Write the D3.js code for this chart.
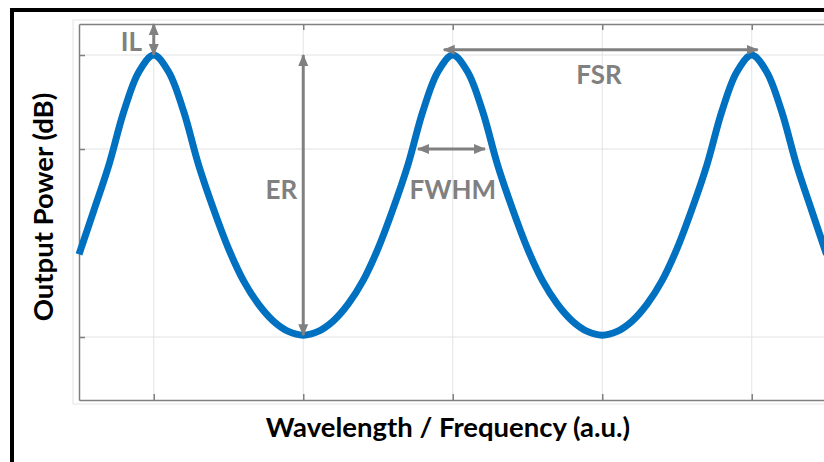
<!DOCTYPE html>
<html>
<head>
<meta charset="utf-8">
<script src="https://cdn.jsdelivr.net/npm/d3@7"></script>
<style>
  body { margin: 0; background: #fff; }
  text { font-family: Lato, "Open Sans", sans-serif; font-weight: bold; }
</style>
</head>
<body>
<svg id="chart" width="824" height="462"></svg>
<script>
'use strict';

// Wavelength / frequency positions (a.u.)
var waveX = [0.5, 0.6, 0.7, 0.8, 0.9, 1.0, 1.1, 1.2, 1.3, 1.4, 1.5,
             1.6, 1.7, 1.8, 1.9, 2.0, 2.1, 2.2, 2.3, 2.4, 2.5,
             2.6, 2.7, 2.8, 2.9, 3.0, 3.1, 3.2, 3.3, 3.4, 3.5,
             3.6, 3.7, 3.8, 3.9, 4.0, 4.1, 4.2, 4.3, 4.4, 4.5,
             4.6, 4.7, 4.8, 4.9, 5.0, 5.1, 5.2, 5.3, 5.4, 5.5];
// Output power (dB)
var powerDb = [-21.2, -16.5, -11.7, -6.0, -1.8, 0.0, -1.8, -6.0, -11.7, -16.4, -20.6,
               -24.0, -26.5, -28.3, -29.4, -29.8, -29.4, -28.3, -26.5, -24.0, -20.6,
               -16.4, -11.7, -6.0, -1.8, 0.0, -1.8, -6.0, -11.7, -16.4, -20.6,
               -24.0, -26.5, -28.3, -29.4, -29.8, -29.4, -28.3, -26.5, -24.0, -20.6,
               -16.4, -11.7, -6.0, -1.8, 0.0, -1.8, -6.0, -11.7, -16.5, -21.2];

var xTicks = [1, 2, 3, 4, 5];
var yTicks = [-30, -10, 0];

// annotation arrows in data units
var annotations = [
  { name: 'IL',   from: [1, 3.3],     to: [1, 0] },
  { name: 'ER',   from: [2, -29.8],   to: [2, 0] },
  { name: 'FWHM', from: [2.767, -10], to: [3.216, -10] },
  { name: 'FSR',  from: [2.94, 0.55], to: [5.04, 0.55] }
];
var labels = [
  { text: 'IL',   x: 0.85,  y: 1.4,   anchor: 'middle' },
  { text: 'ER',   x: 1.96,  y: -14.3, anchor: 'end' },
  { text: 'FWHM', x: 3.0,   y: -14.3, anchor: 'middle' },
  { text: 'FSR',  x: 3.978, y: -2.1,  anchor: 'middle' }
];

var svg = d3.select('#chart');
var grey = '#808080';

var x = d3.scaleLinear().domain([0.5, 5.5]).range([79, 826.5]);
var y = d3.scaleLinear().domain([-36.7, 3.3]).range([400, 24]);

// outer frame (only top and left visible)
svg.append('rect')
  .attr('x', 12).attr('y', 10).attr('width', 900).attr('height', 600)
  .attr('fill', 'none').attr('stroke', '#000').attr('stroke-width', 4);

// faint axes background border
svg.append('rect')
  .attr('x', 73).attr('y', 20).attr('width', 800).attr('height', 384)
  .attr('fill', 'none').attr('stroke', '#e4e4e4').attr('stroke-width', 1);

var plot = svg.append('g');

// grid
plot.selectAll('line.vgrid').data(xTicks).enter().append('line')
  .attr('class', 'vgrid')
  .attr('x1', function(d) { return x(d); }).attr('x2', function(d) { return x(d); })
  .attr('y1', y.range()[0]).attr('y2', y.range()[1])
  .attr('stroke', '#e3e3e3').attr('stroke-width', 1);
plot.selectAll('line.hgrid').data(yTicks).enter().append('line')
  .attr('class', 'hgrid')
  .attr('x1', x.range()[0]).attr('x2', x.range()[1])
  .attr('y1', function(d) { return y(d); }).attr('y2', function(d) { return y(d); })
  .attr('stroke', '#e3e3e3').attr('stroke-width', 1);

// axes (inward ticks, no labels)
function styleAxis(g) {
  g.selectAll('.domain').attr('stroke', grey).attr('stroke-width', 1.5);
  g.selectAll('.tick line').attr('stroke', grey).attr('stroke-width', 1.5);
  g.selectAll('.tick text').remove();
}
plot.append('g').attr('transform', 'translate(0,' + y.range()[0] + ')')
  .call(d3.axisBottom(x).tickValues(xTicks).tickSizeInner(-6).tickSizeOuter(0))
  .call(styleAxis);
plot.append('g').attr('transform', 'translate(0,' + y.range()[1] + ')')
  .call(d3.axisTop(x).tickValues(xTicks).tickSizeInner(-6).tickSizeOuter(0))
  .call(styleAxis);
plot.append('g').attr('transform', 'translate(' + x.range()[0] + ',0)')
  .call(d3.axisLeft(y).tickValues(yTicks).tickSizeInner(-6).tickSizeOuter(0))
  .call(styleAxis);

// curve
var line = d3.line()
  .x(function(d, i) { return x(waveX[i]); })
  .y(function(d) { return y(d); })
  .curve(d3.curveCatmullRom.alpha(0.5));

plot.append('path')
  .datum(powerDb)
  .attr('d', line)
  .attr('fill', 'none')
  .attr('stroke', '#0070C0')
  .attr('stroke-width', 7)
  .attr('stroke-linejoin', 'round');

// arrow markers
var defs = svg.append('defs');
defs.append('marker')
  .attr('id', 'head')
  .attr('markerUnits', 'userSpaceOnUse')
  .attr('viewBox', '0 0 12 12')
  .attr('refX', 11).attr('refY', 6)
  .attr('markerWidth', 12).attr('markerHeight', 12)
  .attr('orient', 'auto-start-reverse')
  .append('path')
  .attr('d', 'M0,1 L12,6 L0,11 Z')
  .attr('fill', grey);

plot.selectAll('line.arrow').data(annotations).enter().append('line')
  .attr('class', 'arrow')
  .attr('x1', function(d) { return x(d.from[0]); })
  .attr('y1', function(d) { return y(d.from[1]); })
  .attr('x2', function(d) { return x(d.to[0]); })
  .attr('y2', function(d) { return y(d.to[1]); })
  .attr('stroke', grey)
  .attr('stroke-width', 3)
  .attr('marker-start', 'url(#head)')
  .attr('marker-end', 'url(#head)');

plot.selectAll('text.note').data(labels).enter().append('text')
  .attr('class', 'note')
  .attr('x', function(d) { return x(d.x); })
  .attr('y', function(d) { return y(d.y); })
  .attr('dy', '0.35em')
  .attr('text-anchor', function(d) { return d.anchor; })
  .attr('fill', grey)
  .style('font-size', '26px')
  .text(function(d) { return d.text; });

// axis titles
svg.append('text')
  .attr('x', 448).attr('y', 437)
  .attr('text-anchor', 'middle')
  .attr('fill', '#000')
  .style('font-size', '27.5px')
  .text('Wavelength / Frequency (a.u.)');

svg.append('text')
  .attr('transform', 'translate(53,207) rotate(-90)')
  .attr('text-anchor', 'middle')
  .attr('fill', '#000')
  .style('font-size', '27.5px')
  .text('Output Power (dB)');
</script>
</body>
</html>
